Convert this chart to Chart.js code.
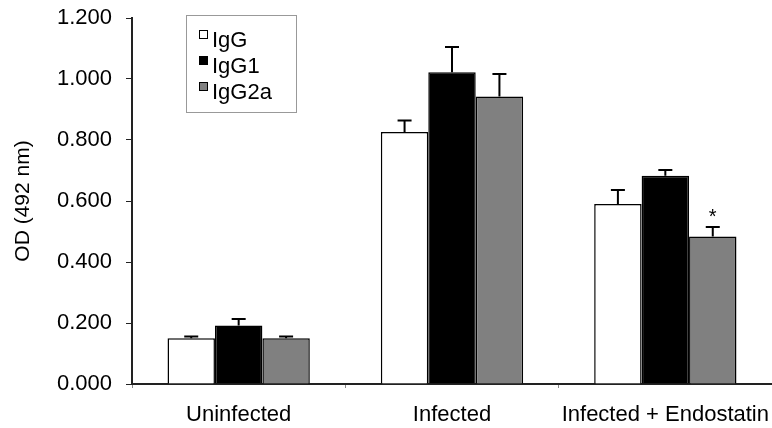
<!DOCTYPE html>
<html>
<head>
<meta charset="utf-8">
<script src="https://cdn.jsdelivr.net/npm/chart.js@4/dist/chart.umd.min.js"></script>
<style>
html,body{margin:0;padding:0;background:#fff;}
#wrap{width:772px;height:428px;}
</style>
</head>
<body>
<div id="wrap"><canvas id="c" width="772" height="428"></canvas></div>
<script>
const categories = ["Uninfected", "Infected", "Infected + Endostatin"];
const seriesNames = ["IgG", "IgG1", "IgG2a"];
const igG = [0.150, 0.826, 0.590];
const igG1 = [0.192, 1.022, 0.683];
const igG2a = [0.150, 0.943, 0.484];
const errIgG = [0.006, 0.038, 0.046];
const errIgG1 = [0.021, 0.083, 0.019];
const errIgG2a = [0.006, 0.073, 0.031];
const yTicks = [0, 0.2, 0.4, 0.6, 0.8, 1.0, 1.2];
const yTickLabels = ["0.000", "0.200", "0.400", "0.600", "0.800", "1.000", "1.200"];
const significance = [{series: 2, index: 2, text: "*"}];

const FONT = "'Liberation Sans', Arial, sans-serif";
const colors = ["#ffffff", "#000000", "#808080"];
const errors = [errIgG, errIgG1, errIgG2a];

const errorBarPlugin = {
  id: 'errorBars',
  afterDatasetsDraw(chart) {
    const ctx = chart.ctx;
    const y = chart.scales.y;
    ctx.save();
    ctx.strokeStyle = '#000';
    ctx.lineWidth = 2;
    chart.data.datasets.forEach((ds, i) => {
      const meta = chart.getDatasetMeta(i);
      meta.data.forEach((bar, j) => {
        const v = ds.data[j];
        const e = errors[i][j];
        const top = y.getPixelForValue(v + e);
        const base = y.getPixelForValue(v);
        ctx.beginPath();
        ctx.moveTo(bar.x, base);
        ctx.lineTo(bar.x, top);
        ctx.moveTo(bar.x - 7, top);
        ctx.lineTo(bar.x + 7, top);
        ctx.stroke();
      });
    });
    ctx.fillStyle = '#000';
    ctx.font = "20px " + FONT;
    ctx.textAlign = 'center';
    ctx.textBaseline = 'alphabetic';
    significance.forEach(s => {
      const bar = chart.getDatasetMeta(s.series).data[s.index];
      const v = chart.data.datasets[s.series].data[s.index] + errors[s.series][s.index];
      const top = y.getPixelForValue(v);
      ctx.fillText(s.text, bar.x, top - 4);
    });
    ctx.restore();
  }
};

const legendPlugin = {
  id: 'boxLegend',
  afterDraw(chart) {
    const ctx = chart.ctx;
    ctx.save();
    ctx.strokeStyle = '#999';
    ctx.lineWidth = 1;
    ctx.strokeRect(186.5, 15.5, 110, 97);
    ctx.font = "22px " + FONT;
    ctx.textBaseline = 'alphabetic';
    ctx.textAlign = 'left';
    chart.data.datasets.forEach((ds, i) => {
      const base = 47 + i * 26;
      ctx.fillStyle = ds.backgroundColor;
      ctx.fillRect(199.5, base - 16.5, 8, 8);
      ctx.strokeStyle = '#000';
      ctx.lineWidth = 1;
      ctx.strokeRect(199.5, base - 16.5, 8, 8);
      ctx.fillStyle = '#000';
      ctx.fillText(ds.label, 212, base);
    });
    ctx.restore();
  }
};

new Chart(document.getElementById('c'), {
  type: 'bar',
  data: {
    labels: categories,
    datasets: [igG, igG1, igG2a].map((d, i) => ({
      label: seriesNames[i],
      data: d,
      backgroundColor: colors[i],
      borderColor: '#000',
      borderWidth: 1.5,
      borderSkipped: 'bottom',
      barPercentage: 1.0,
      categoryPercentage: 0.667
    }))
  },
  options: {
    responsive: false,
    animation: false,
    devicePixelRatio: 1,
    layout: { padding: { top: 18, left: 0, right: 0, bottom: 0 } },
    plugins: { legend: { display: false }, tooltip: { enabled: false } },
    scales: {
      x: {
        offset: true,
        grid: { display: true, drawOnChartArea: false, drawTicks: true, tickLength: 4, color: '#888', offset: true },
        border: { display: true, color: '#222', width: 2 },
        ticks: { color: '#000', font: { family: FONT, size: 22 }, padding: 14, maxRotation: 0, autoSkip: false },
        afterFit(s) { s.height = 44; s.paddingLeft = 0; s.paddingRight = 0; }
      },
      y: {
        min: 0, max: 1.2,
        afterBuildTicks(s) { s.ticks = yTicks.map(v => ({ value: v })); },
        grid: { display: true, drawOnChartArea: false, drawTicks: true, tickLength: 6, color: '#222' },
        border: { display: true, color: '#222', width: 2 },
        ticks: {
          color: '#000', font: { family: FONT, size: 22 }, padding: 14,
          callback(v) { const k = yTicks.findIndex(t => Math.abs(t - v) < 1e-9); return k >= 0 ? yTickLabels[k] : ''; }
        },
        title: { display: true, text: 'OD (492 nm)', color: '#000', font: { family: FONT, size: 21 }, padding: { top: 11, bottom: 0 } },
        afterFit(s) { s.width = 132; s.paddingTop = 0; s.paddingBottom = 0; }
      }
    }
  },
  plugins: [errorBarPlugin, legendPlugin]
});
</script>
</body>
</html>
